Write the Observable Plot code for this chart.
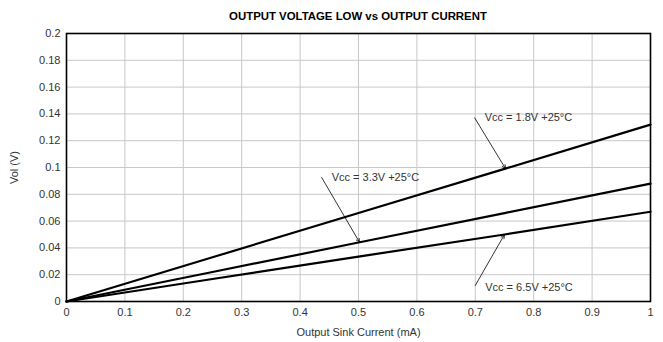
<!DOCTYPE html>
<html>
<head>
<meta charset="utf-8">
<script src="https://cdn.jsdelivr.net/npm/d3@7"></script>
<script src="https://cdn.jsdelivr.net/npm/@observablehq/plot@0.6"></script>
<style>
  html, body { margin: 0; padding: 0; background: #fff; }
  #wrap { width: 663px; font-family: "Liberation Sans", Arial, sans-serif; }
  #title { height: 24px; line-height: 32px; text-align: center; font-weight: bold; font-size: 11.4px; color: #000; padding-left: 53px; box-sizing: border-box; }
  svg { display: block; }
</style>
</head>
<body>
<div id="wrap">
  <div id="title">OUTPUT VOLTAGE LOW vs OUTPUT CURRENT</div>
  <div id="chart"></div>
</div>
<script>
// Data
const current = [0, 0.25, 0.5, 0.75, 1];
const vol18 = [0, 0.033, 0.066, 0.099, 0.132];
const vol33 = [0, 0.022, 0.044, 0.066, 0.088];
const vol65 = [0, 0.0168, 0.0335, 0.050, 0.067];
const seriesNames = ["Vcc = 1.8V +25°C", "Vcc = 3.3V +25°C", "Vcc = 6.5V +25°C"];
const xTicks = [0, 0.1, 0.2, 0.3, 0.4, 0.5, 0.6, 0.7, 0.8, 0.9, 1];
const yTicks = [0, 0.02, 0.04, 0.06, 0.08, 0.1, 0.12, 0.14, 0.16, 0.18, 0.2];
// annotation: label anchor (tail) and arrow tip on curve
const annTailX = [0.699, 0.437, 0.70];
const annTailY = [0.137, 0.0925, 0.012];
const annTipX = [0.752, 0.502, 0.750];
const annTipY = [0.099, 0.044, 0.050];
const annTextX = [0.716, 0.454, 0.717];
const annTextY = [0.137, 0.0925, 0.0105];

const allSeries = [vol18, vol33, vol65];
const lineData = [];
allSeries.forEach((vals, s) => current.forEach((c, i) => lineData.push({series: seriesNames[s], x: c, y: vals[i]})));
const ann = seriesNames.map((n, i) => ({
  label: n, x1: annTailX[i], y1: annTailY[i], x2: annTipX[i], y2: annTipY[i], tx: annTextX[i], ty: annTextY[i]
}));
const fmt = d => d3.format("~g")(d);

const chart = Plot.plot({
  width: 663,
  height: 318,
  marginTop: 9,
  marginLeft: 66,
  marginRight: 13,
  marginBottom: 41,
  style: {fontFamily: "'Liberation Sans', Arial, sans-serif", fontSize: "11px", color: "#333"},
  x: {domain: [0, 1], ticks: xTicks, tickFormat: fmt, label: "Output Sink Current (mA)", labelAnchor: "center", labelArrow: "none", labelOffset: 34, tickSize: 0, tickPadding: 7},
  y: {domain: [0, 0.2], ticks: yTicks, tickFormat: fmt, label: "Vol (V)", labelAnchor: "center", labelArrow: "none", labelOffset: 56, tickSize: 0, tickPadding: 6},
  marks: [
    Plot.ruleX(xTicks, {stroke: "#c8c8c8", strokeWidth: 1}),
    Plot.ruleY(yTicks, {stroke: "#c8c8c8", strokeWidth: 1}),
    Plot.line(lineData, {x: "x", y: "y", z: "series", stroke: "#000", strokeWidth: 2.2}),
    Plot.arrow(ann, {x1: "x1", y1: "y1", x2: "x2", y2: "y2", bend: 0, stroke: "#000", strokeWidth: 0.8, headLength: 8, headAngle: 45}),
    Plot.text(ann, {x: "tx", y: "ty", text: "label", textAnchor: "start", fill: "#333", fontSize: 11}),
    Plot.frame({stroke: "#000", strokeWidth: 1.6})
  ]
});
document.getElementById("chart").appendChild(chart);
</script>
</body>
</html>
